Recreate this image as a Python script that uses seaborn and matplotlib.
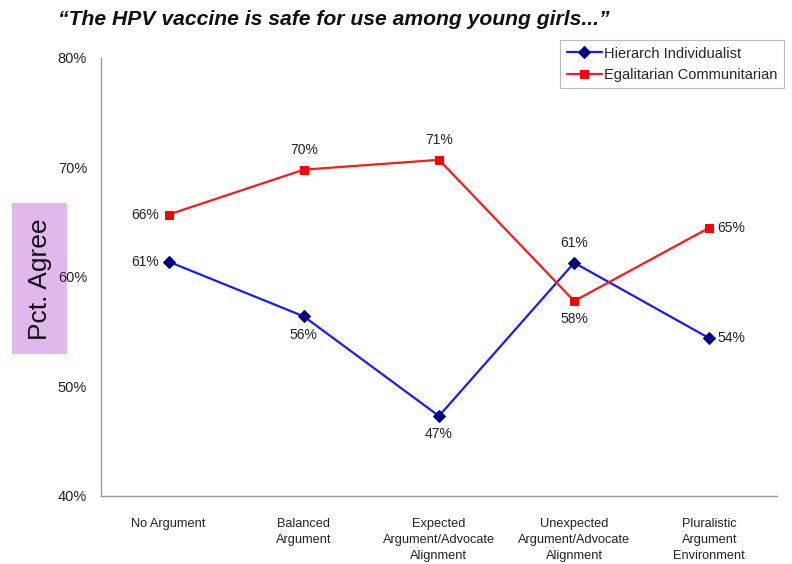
import matplotlib
matplotlib.use("Agg")
import matplotlib.pyplot as plt
import seaborn as sns
import pandas as pd
import numpy as np
from matplotlib.ticker import FixedLocator, NullFormatter
from matplotlib.patches import Rectangle

categories = ["No Argument", "Balanced\nArgument", "Expected\nArgument/Advocate\nAlignment",
              "Unexpected\nArgument/Advocate\nAlignment", "Pluralistic\nArgument\nEnvironment"]
hierarch = [61.4, 56.4, 47.3, 61.3, 54.4]
egalitarian = [65.7, 69.8, 70.7, 57.8, 64.5]
hier_labels = ["61%", "56%", "47%", "61%", "54%"]
egal_labels = ["66%", "70%", "71%", "58%", "65%"]
y_ticks = [40, 50, 60, 70, 80]

sns.set_theme(style="white")
plt.rcParams['font.family'] = ['Liberation Sans', 'DejaVu Sans']

df = pd.DataFrame({
    "x": list(range(len(categories))) * 2,
    "value": hierarch + egalitarian,
    "series": ["Hierarch Individualist"] * 5 + ["Egalitarian Communitarian"] * 5,
})

fig = plt.figure(figsize=(7.92, 5.64), dpi=100)

# purple label box behind everything
fig.patches.append(Rectangle((12 / 792, 1 - 354 / 564), 55 / 792, 151 / 564,
                             transform=fig.transFigure, facecolor="#e0b8ec",
                             edgecolor="none", zorder=-5))
fig.text(39.5 / 792, 1 - 279 / 564, "Pct. Agree", rotation=90, ha="center", va="center",
         fontsize=19, color="#111111", zorder=-4)

ax = fig.add_axes([0.1275, 0.1206, 0.8535, 0.7766])
ax.set_facecolor("none")

sns.lineplot(data=df[df.series == "Hierarch Individualist"], x="x", y="value", ax=ax,
             color="#1a1aff", marker="D", markersize=6, markerfacecolor="#000080",
             markeredgecolor="#000080", linewidth=1.6, label="Hierarch Individualist")
sns.lineplot(data=df[df.series == "Egalitarian Communitarian"], x="x", y="value", ax=ax,
             color="#ff1a1a", marker="s", markersize=6, markerfacecolor="#ff0000",
             markeredgecolor="#ff0000", linewidth=1.6, label="Egalitarian Communitarian")

ax.set_xlim(-0.5, 4.5)
ax.set_ylim(40, 80)
ax.set_yticks(y_ticks)
ax.set_yticklabels([f"{v}%" for v in y_ticks], fontsize=10.5, color="#222222")
ax.set_xticks(range(5))
ax.set_xticklabels(categories, fontsize=9.2, color="#222222", va="top", linespacing=1.45)
ax.tick_params(axis="x", which="major", length=0, pad=16)
ax.xaxis.set_minor_locator(FixedLocator([0.5, 1.5, 2.5, 3.5]))
ax.xaxis.set_minor_formatter(NullFormatter())
ax.tick_params(axis="x", which="minor", length=3, color="#999999", direction="in")
ax.tick_params(axis="y", which="major", length=4, color="#999999", direction="out", pad=6)
ax.set_xlabel("")
ax.set_ylabel("")
for s in ["top", "right"]:
    ax.spines[s].set_visible(False)
for s in ["left", "bottom"]:
    ax.spines[s].set_color("#999999")
    ax.spines[s].set_linewidth(1.0)

# data labels
h_off = [(-7, 0, "right", "center"), (0, -8, "center", "top"), (0, -8, "center", "top"),
         (0, 9, "center", "bottom"), (6, 0, "left", "center")]
e_off = [(-7, 0, "right", "center"), (0, 9, "center", "bottom"), (0, 9, "center", "bottom"),
         (0, -8, "center", "top"), (6, 0, "left", "center")]
for i in range(5):
    dx, dy, ha, va = h_off[i]
    ax.annotate(hier_labels[i], (i, hierarch[i]), xytext=(dx, dy), textcoords="offset points",
                ha=ha, va=va, fontsize=10, color="#222222")
    dx, dy, ha, va = e_off[i]
    ax.annotate(egal_labels[i], (i, egalitarian[i]), xytext=(dx, dy), textcoords="offset points",
                ha=ha, va=va, fontsize=10, color="#222222")

leg = ax.legend(loc="upper left", bbox_to_anchor=(560 / 792, 1 - 40 / 564),
                bbox_transform=fig.transFigure, fontsize=10.5, frameon=True, fancybox=False,
                handlelength=2.4, handletextpad=0.2, borderpad=0.45, labelspacing=0.5,
                borderaxespad=0)
leg.get_frame().set_edgecolor("#aaaaaa")
leg.get_frame().set_linewidth(0.8)

fig.text(0.421, 0.965, "\u201cThe HPV vaccine is safe for use among young girls...\u201d",
         ha="center", va="center", fontsize=15.2, fontstyle="italic", fontweight="bold",
         color="#111111")

fig.savefig("out.png", dpi=100)
